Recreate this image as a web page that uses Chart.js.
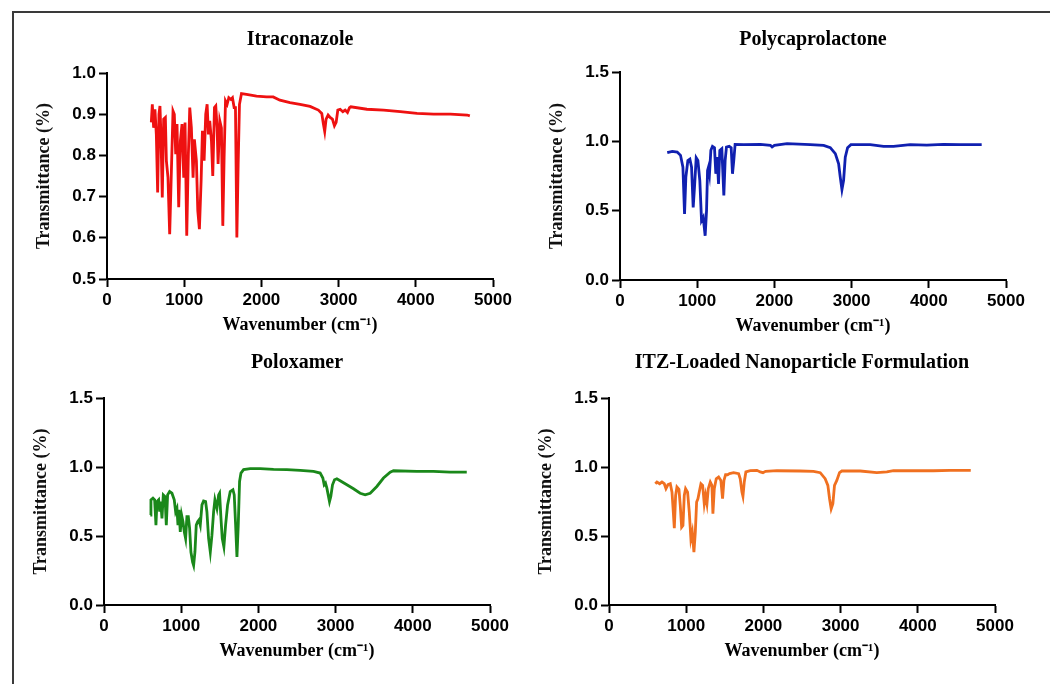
<!DOCTYPE html>
<html>
<head>
<meta charset="utf-8">
<script src="https://cdn.jsdelivr.net/npm/chart.js@4.4.1/dist/chart.umd.min.js"></script>
<style>
  body { margin: 0; background: #fff; width: 1054px; height: 684px; overflow: hidden; position: relative; }
  #frame { position: absolute; left: 12px; top: 11px; width: 1036px; height: 700px; border-left: 2px solid #3a3a3a; border-top: 2px solid #3a3a3a; }
  canvas { position: absolute; }
</style>
</head>
<body>
<div id="frame"></div>
<canvas id="itzChart" width="496" height="319" style="left:27px;top:20px"></canvas>
<canvas id="pclChart" width="496" height="320" style="left:540px;top:20px"></canvas>
<canvas id="poloxChart" width="496" height="322" style="left:24px;top:343px"></canvas>
<canvas id="nanoChart" width="496" height="322" style="left:529px;top:343px"></canvas>
<script>
// (wavenumber cm-1, transmittance)
const itzWn = [574, 587, 604, 621, 639, 656, 673, 686, 699, 716, 734, 756, 769, 790, 812, 834, 855, 872, 890, 907, 929, 950, 972, 994, 1011, 1033, 1054, 1072, 1093, 1115, 1132, 1158, 1176, 1197, 1219, 1236, 1258, 1279, 1297, 1314, 1331, 1353, 1370, 1392, 1409, 1426, 1439, 1461, 1482, 1500, 1517, 1535, 1556, 1578, 1604, 1625, 1647, 1664, 1682, 1699, 1716, 1742, 1807, 1937, 2067, 2153, 2240, 2370, 2500, 2630, 2738, 2782, 2803, 2820, 2838, 2864, 2890, 2920, 2946, 2968, 2990, 3020, 3055, 3085, 3115, 3141, 3158, 3366, 3583, 3799, 4016, 4232, 4449, 4665, 4700];
const itzT = [0.880, 0.924, 0.867, 0.912, 0.851, 0.710, 0.900, 0.920, 0.848, 0.698, 0.888, 0.892, 0.787, 0.746, 0.609, 0.762, 0.908, 0.900, 0.803, 0.876, 0.674, 0.835, 0.876, 0.746, 0.880, 0.605, 0.803, 0.916, 0.867, 0.746, 0.839, 0.787, 0.666, 0.621, 0.738, 0.860, 0.787, 0.900, 0.924, 0.851, 0.884, 0.835, 0.750, 0.916, 0.920, 0.867, 0.779, 0.884, 0.867, 0.629, 0.795, 0.932, 0.924, 0.940, 0.936, 0.940, 0.916, 0.916, 0.601, 0.779, 0.924, 0.950, 0.948, 0.944, 0.942, 0.942, 0.934, 0.928, 0.924, 0.919, 0.910, 0.902, 0.876, 0.858, 0.888, 0.898, 0.892, 0.888, 0.872, 0.880, 0.910, 0.912, 0.906, 0.910, 0.904, 0.916, 0.918, 0.912, 0.910, 0.906, 0.902, 0.900, 0.900, 0.898, 0.896];

const pclWn = [612, 677, 741, 784, 815, 836, 853, 879, 905, 927, 948, 965, 987, 1009, 1034, 1056, 1078, 1103, 1121, 1134, 1146, 1159, 1177, 1198, 1224, 1241, 1259, 1276, 1293, 1319, 1345, 1362, 1379, 1414, 1440, 1457, 1474, 1491, 1604, 1819, 1948, 1970, 2000, 2164, 2465, 2638, 2724, 2789, 2832, 2853, 2875, 2896, 2918, 2948, 2991, 3241, 3414, 3543, 3758, 3974, 4189, 4405, 4685];
const pclT = [0.918, 0.928, 0.923, 0.899, 0.814, 0.476, 0.742, 0.862, 0.872, 0.814, 0.524, 0.669, 0.882, 0.862, 0.717, 0.428, 0.452, 0.319, 0.500, 0.790, 0.814, 0.766, 0.935, 0.964, 0.954, 0.766, 0.886, 0.693, 0.935, 0.947, 0.609, 0.862, 0.959, 0.964, 0.954, 0.766, 0.862, 0.978, 0.976, 0.978, 0.971, 0.959, 0.971, 0.983, 0.976, 0.971, 0.954, 0.911, 0.838, 0.742, 0.652, 0.717, 0.886, 0.954, 0.976, 0.976, 0.964, 0.964, 0.976, 0.973, 0.978, 0.976, 0.976];

const poloxWn = [600, 608, 634, 656, 673, 686, 708, 721, 734, 751, 768, 790, 807, 824, 850, 880, 910, 928, 945, 958, 971, 988, 1005, 1023, 1040, 1057, 1074, 1092, 1109, 1126, 1148, 1161, 1178, 1195, 1213, 1230, 1247, 1269, 1290, 1316, 1333, 1355, 1377, 1398, 1420, 1437, 1463, 1485, 1497, 1515, 1532, 1553, 1575, 1601, 1635, 1670, 1687, 1705, 1722, 1739, 1756, 1774, 1808, 1894, 2024, 2196, 2369, 2542, 2714, 2800, 2835, 2852, 2869, 2887, 2904, 2921, 2938, 2960, 2986, 3016, 3059, 3146, 3232, 3318, 3383, 3448, 3534, 3620, 3707, 3750, 4052, 4267, 4483, 4699];
const poloxT = [0.652, 0.762, 0.774, 0.762, 0.579, 0.749, 0.762, 0.676, 0.749, 0.628, 0.798, 0.786, 0.579, 0.798, 0.822, 0.810, 0.762, 0.676, 0.700, 0.579, 0.689, 0.530, 0.652, 0.603, 0.530, 0.482, 0.640, 0.640, 0.555, 0.384, 0.311, 0.287, 0.384, 0.579, 0.603, 0.616, 0.579, 0.725, 0.754, 0.749, 0.676, 0.482, 0.384, 0.506, 0.676, 0.762, 0.700, 0.798, 0.810, 0.628, 0.482, 0.421, 0.579, 0.725, 0.822, 0.835, 0.798, 0.579, 0.348, 0.579, 0.895, 0.956, 0.981, 0.988, 0.988, 0.983, 0.981, 0.976, 0.968, 0.956, 0.920, 0.871, 0.883, 0.847, 0.798, 0.749, 0.786, 0.871, 0.908, 0.915, 0.900, 0.871, 0.842, 0.810, 0.798, 0.810, 0.859, 0.920, 0.963, 0.973, 0.968, 0.968, 0.963, 0.963];

const nanoWn = [600, 621, 656, 686, 716, 738, 764, 794, 816, 833, 846, 863, 880, 906, 923, 941, 958, 975, 992, 1018, 1040, 1061, 1079, 1100, 1118, 1135, 1152, 1169, 1191, 1213, 1234, 1251, 1269, 1286, 1312, 1333, 1346, 1364, 1389, 1420, 1449, 1471, 1489, 1510, 1536, 1562, 1614, 1679, 1700, 1722, 1735, 1752, 1773, 1830, 1916, 1959, 1994, 2028, 2175, 2477, 2649, 2736, 2800, 2835, 2857, 2878, 2900, 2921, 2951, 2986, 3016, 3254, 3469, 3599, 3685, 3987, 4203, 4419, 4686];
const nanoT = [0.879, 0.891, 0.879, 0.891, 0.879, 0.843, 0.872, 0.879, 0.818, 0.673, 0.557, 0.794, 0.855, 0.838, 0.722, 0.564, 0.576, 0.794, 0.843, 0.818, 0.673, 0.479, 0.528, 0.383, 0.528, 0.746, 0.770, 0.818, 0.879, 0.867, 0.734, 0.794, 0.734, 0.843, 0.891, 0.867, 0.661, 0.843, 0.915, 0.927, 0.903, 0.770, 0.903, 0.944, 0.944, 0.952, 0.959, 0.952, 0.915, 0.818, 0.787, 0.891, 0.964, 0.973, 0.976, 0.964, 0.959, 0.969, 0.973, 0.971, 0.969, 0.959, 0.915, 0.867, 0.770, 0.697, 0.734, 0.867, 0.903, 0.959, 0.971, 0.971, 0.959, 0.964, 0.973, 0.973, 0.973, 0.976, 0.976];

const xTicks = [0, 1000, 2000, 3000, 4000, 5000];

function toPoints(xs, ys) {
    return xs.map((x, i) => ({ x: x, y: ys[i] }));
}

function createSpectrumChart(id, title, xs, ys, color, yMin, yMax, yStep, titleBottom) {
    const ctx = document.getElementById(id).getContext('2d');
    return new Chart(ctx, {
        type: 'line',
        data: {
            datasets: [{
                data: toPoints(xs, ys),
                borderColor: color,
                borderWidth: 2.8,
                pointRadius: 0,
                tension: 0,
                fill: false
            }]
        },
        options: {
            responsive: false,
            animation: false,
            layout: { padding: { left: 0, right: 30, top: 0, bottom: 0 } },
            plugins: {
                legend: { display: false },
                tooltip: { enabled: false },
                title: {
                    display: true,
                    text: title,
                    fullSize: false,
                    color: '#000',
                    font: { family: 'Liberation Serif', size: 20, weight: 'bold' },
                    padding: { top: 8, bottom: titleBottom }
                }
            },
            scales: {
                x: {
                    type: 'linear',
                    min: 0,
                    max: 5000,
                    afterFit: scale => { scale.height = 60; },
                    afterBuildTicks: scale => { scale.ticks = xTicks.map(v => ({ value: v })); },
                    grid: { drawOnChartArea: false, color: '#000', tickLength: 8, tickWidth: 2 },
                    border: { color: '#000', width: 2 },
                    ticks: {
                        color: '#000',
                        padding: 3,
                        maxRotation: 0,
                        font: { family: 'Liberation Sans', size: 17, weight: 'bold' },
                        callback: v => String(v)
                    },
                    title: {
                        display: true,
                        text: 'Wavenumber (cm\u207B\u00B9)',
                        color: '#000',
                        font: { family: 'Liberation Serif', size: 18, weight: 'bold' },
                        padding: { top: 0, bottom: 3 }
                    }
                },
                y: {
                    min: yMin,
                    max: yMax,
                    afterFit: scale => { scale.width = 80; },
                    grid: { drawOnChartArea: false, color: '#000', tickLength: 8, tickWidth: 2 },
                    border: { color: '#000', width: 2 },
                    ticks: {
                        stepSize: yStep,
                        color: '#000',
                        padding: 3,
                        font: { family: 'Liberation Sans', size: 17, weight: 'bold' },
                        callback: v => Number(v).toFixed(1)
                    },
                    title: {
                        display: true,
                        text: 'Transmittance (%)',
                        color: '#111',
                        font: { family: 'Liberation Serif', size: 18, weight: 'bold' },
                        padding: { top: 7, bottom: 0 }
                    }
                }
            }
        }
    });
}

createSpectrumChart('itzChart', 'Itraconazole', itzWn, itzT, '#ee1111', 0.5, 1.0, 0.1, 21);
createSpectrumChart('pclChart', 'Polycaprolactone', pclWn, pclT, '#1020b0', 0, 1.5, 0.5, 20);
createSpectrumChart('poloxChart', 'Poloxamer', poloxWn, poloxT, '#1a881a', 0, 1.5, 0.5, 23);
createSpectrumChart('nanoChart', 'ITZ-Loaded Nanoparticle Formulation', nanoWn, nanoT, '#f07020', 0, 1.5, 0.5, 23);
</script>
</body>
</html>
